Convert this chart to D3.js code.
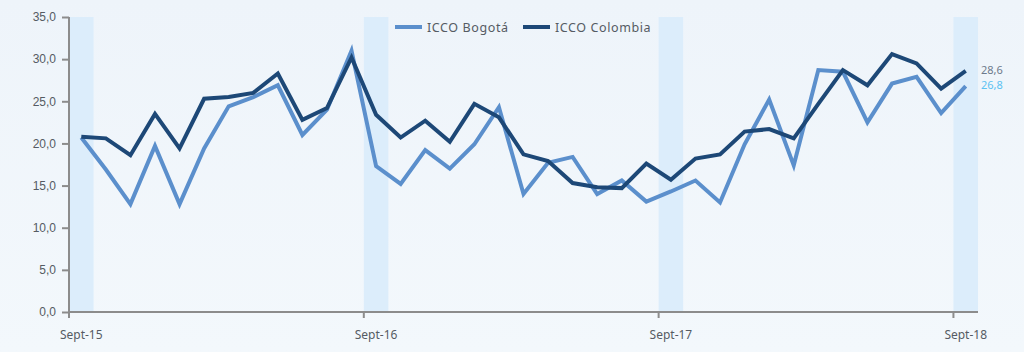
<!doctype html>
<html lang="es">
<head>
    <meta charset="UTF-8">
    <title>ICCO Bogotá vs ICCO Colombia</title>
    <script type="text/javascript" src="https://cdn.jsdelivr.net/npm/d3@7"></script>
    <style type="text/css">
        body {
            margin: 0;
            background-color: #eff5fa;
        }

        svg {
            display: block;
            font-family: "Noto Sans", sans-serif;
        }

        .axis text {
            fill: #555b63;
            font-size: 12px;
        }

        .axis path, .axis line {
            stroke: #8c8c8c;
            stroke-width: 2;
        }
    </style>
</head>
<body>
<script type="text/javascript">

    var w = 1024;
    var h = 352;

    // months Sept-15 .. Sept-18
    var months = ["Sept-15", "Oct-15", "Nov-15", "Dic-15", "Ene-16", "Feb-16", "Mar-16", "Abr-16", "May-16",
        "Jun-16", "Jul-16", "Ago-16", "Sept-16", "Oct-16", "Nov-16", "Dic-16", "Ene-17", "Feb-17", "Mar-17",
        "Abr-17", "May-17", "Jun-17", "Jul-17", "Ago-17", "Sept-17", "Oct-17", "Nov-17", "Dic-17", "Ene-18",
        "Feb-18", "Mar-18", "Abr-18", "May-18", "Jun-18", "Jul-18", "Ago-18", "Sept-18"];

    var bogota = [20.7, 16.9, 12.8, 19.7, 12.8, 19.4, 24.4, 25.5, 26.9, 21.0, 24.0, 31.0,
        17.3, 15.2, 19.2, 17.0, 19.9, 24.3, 14.0, 17.7, 18.4, 14.0, 15.6, 13.1,
        14.3, 15.6, 13.0, 19.9, 25.2, 17.4, 28.7, 28.5, 22.5, 27.1, 27.9, 23.6, 26.8];

    var colombia = [20.8, 20.6, 18.6, 23.5, 19.4, 25.3, 25.5, 26.0, 28.3, 22.8, 24.2, 30.2,
        23.4, 20.7, 22.7, 20.2, 24.7, 23.1, 18.7, 17.9, 15.3, 14.8, 14.7, 17.6,
        15.7, 18.2, 18.7, 21.4, 21.7, 20.6, 24.7, 28.7, 26.9, 30.6, 29.5, 26.5, 28.6];

    var yTicks = [0, 5, 10, 15, 20, 25, 30, 35];
    var shown = ["Sept-15", "Sept-16", "Sept-17", "Sept-18"];

    var series = [
        {name: "ICCO Bogotá", values: bogota, color: "#5b8fcc", labelColor: "#5cc2f2"},
        {name: "ICCO Colombia", values: colombia, color: "#1d4877", labelColor: "#6d7a8c"}
    ];

    var padL = 69, padR = 978, padT = 17, padB = 312;

    var xScale = d3.scaleBand()
        .domain(months)
        .range([padL, padR]);

    var yScale = d3.scaleLinear()
        .domain([0, 35])
        .range([padB, padT]);

    var svg = d3.select("body")
        .append("svg")
        .attr("width", w)
        .attr("height", h);

    var grad = svg.append("defs").append("linearGradient")
        .attr("id", "bg").attr("x1", 0).attr("y1", 0).attr("x2", 0).attr("y2", 1);
    grad.append("stop").attr("offset", "0%").attr("stop-color", "#eef4fa");
    grad.append("stop").attr("offset", "100%").attr("stop-color", "#f3f8fc");

    svg.append("rect")
        .attr("width", w)
        .attr("height", h)
        .attr("fill", "url(#bg)");

    // september bands
    svg.selectAll("rect.band")
        .data(shown)
        .enter()
        .append("rect")
        .attr("class", "band")
        .attr("x", function (d) {
            return xScale(d);
        })
        .attr("y", padT)
        .attr("width", xScale.bandwidth())
        .attr("height", padB - padT)
        .attr("fill", "#dcedfb");

    // y axis
    var yAxis = d3.axisLeft(yScale)
        .tickValues(yTicks)
        .tickSize(7)
        .tickPadding(6)
        .tickFormat(function (d) {
            return d3.format(".1f")(d).replace(".", ",");
        });

    var gy = svg.append("g")
        .attr("class", "axis")
        .attr("transform", "translate(" + padL + ",0)")
        .call(yAxis);
    gy.select(".domain").attr("d", "M0," + padT + "V" + (padB + 5));

    // x axis: ticks at the start of each shown month
    var gx = svg.append("g")
        .attr("class", "axis")
        .attr("transform", "translate(0," + padB + ")");
    gx.append("path")
        .attr("d", "M" + padL + ",0H" + padR)
        .attr("fill", "none");
    gx.selectAll("line.tk")
        .data(shown)
        .enter()
        .append("line")
        .attr("x1", function (d) {
            return xScale(d);
        })
        .attr("x2", function (d) {
            return xScale(d);
        })
        .attr("y1", 0)
        .attr("y2", 6);
    gx.selectAll("text")
        .data(shown)
        .enter()
        .append("text")
        .attr("x", function (d) {
            return xScale(d) + xScale.bandwidth() / 2;
        })
        .attr("y", 27)
        .attr("text-anchor", "middle")
        .text(function (d) {
            return d;
        });

    // lines
    var line = d3.line()
        .x(function (d, i) {
            return xScale(months[i]) + xScale.bandwidth() / 2;
        })
        .y(function (d) {
            return yScale(d);
        });

    svg.selectAll("path.series")
        .data(series)
        .enter()
        .append("path")
        .attr("class", "series")
        .attr("fill", "none")
        .attr("stroke", function (d) {
            return d.color;
        })
        .attr("stroke-width", 4)
        .attr("stroke-linejoin", "miter")
        .attr("d", function (d) {
            return line(d.values);
        });

    // end labels
    var last = months.length - 1;
    svg.selectAll("text.end")
        .data(series)
        .enter()
        .append("text")
        .attr("class", "end")
        .attr("x", xScale(months[last]) + xScale.bandwidth() + 3)
        .attr("y", function (d) {
            return yScale(d.values[last]) + 3;
        })
        .attr("font-size", "11px")
        .attr("fill", function (d) {
            return d.labelColor;
        })
        .text(function (d) {
            return d3.format(".1f")(d.values[last]).replace(".", ",");
        });

    // legend
    var legendX = [395, 523];
    var legend = svg.selectAll("g.legend")
        .data(series)
        .enter()
        .append("g")
        .attr("class", "legend")
        .attr("transform", function (d, i) {
            return "translate(" + legendX[i] + ",27)";
        });
    legend.append("line")
        .attr("x1", 0)
        .attr("x2", 27)
        .attr("stroke", function (d) {
            return d.color;
        })
        .attr("stroke-width", 4);
    legend.append("text")
        .attr("x", 32)
        .attr("y", 4.5)
        .attr("font-size", "12.5px")
        .attr("letter-spacing", "0.6px")
        .attr("fill", "#555b63")
        .text(function (d) {
            return d.name;
        });

</script>

</body>
</html>
